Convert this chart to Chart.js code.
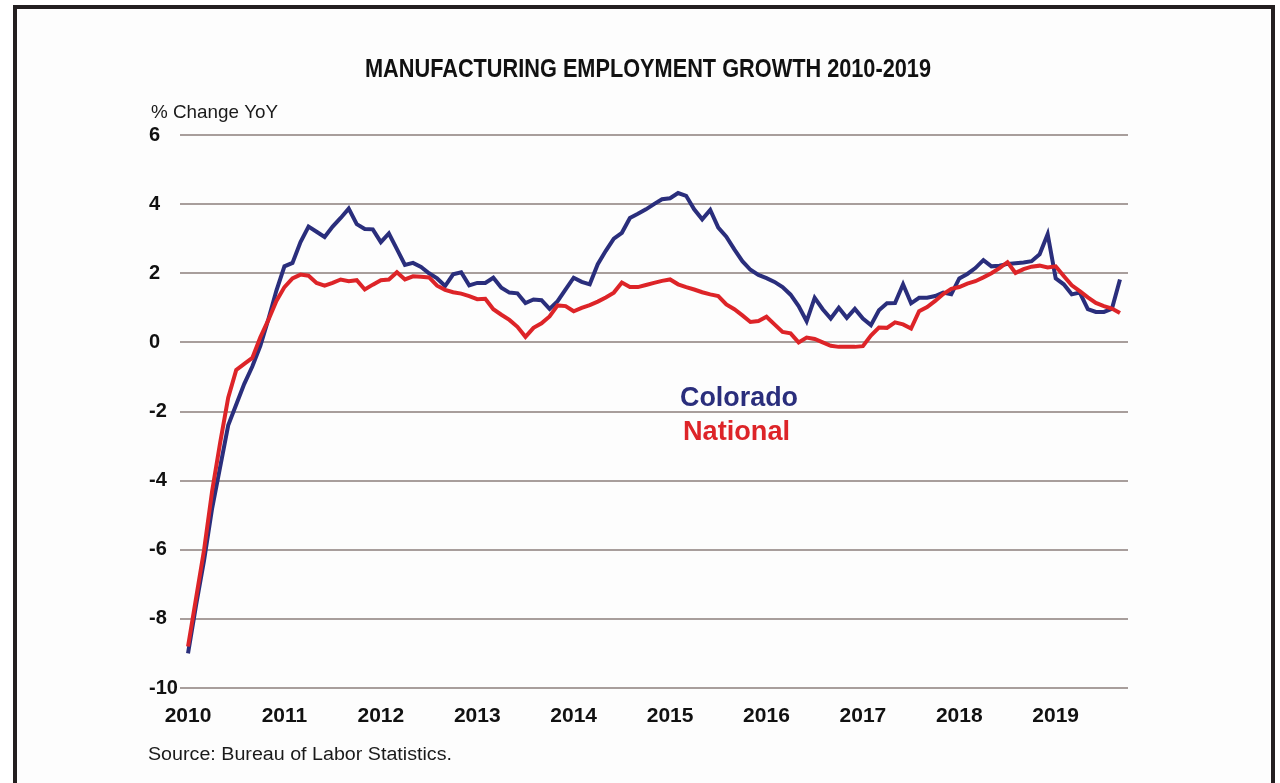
<!DOCTYPE html>
<html>
<head>
<meta charset="utf-8">
<title>Manufacturing Employment Growth 2010-2019</title>
<script src="https://cdn.jsdelivr.net/npm/chart.js@4.4.1/dist/chart.umd.min.js"></script>
<style>
  html, body { margin: 0; padding: 0; background: #ffffff; }
  body { width: 1280px; height: 783px; overflow: hidden; position: relative; }
  .frame {
    position: absolute; left: 13px; top: 5px; width: 1262px; height: 820px;
    border: 4px solid #231f20; box-sizing: border-box; background: #fdfdfd;
  }
  #chart { position: absolute; left: 0; top: 0; }
</style>
</head>
<body>
<div class="frame"></div>
<canvas id="chart" width="1280" height="783"></canvas>
<script>
// monthly year-over-year change, Jan 2010 .. Sep 2019
const years = ['2010', '2011', '2012', '2013', '2014', '2015', '2016', '2017', '2018', '2019'];
const yTicks = [6, 4, 2, 0, -2, -4, -6, -8, -10];

const colorado = [
  -9.0, -7.6, -6.3, -4.8, -3.6, -2.4, -1.8, -1.2, -0.7, -0.1, 0.67, 1.5,
  2.2, 2.3, 2.9, 3.35, 3.2, 3.05, 3.35, 3.6, 3.87, 3.42, 3.28, 3.27,
  2.9, 3.15, 2.7, 2.24, 2.3, 2.18, 2.0, 1.85, 1.63, 1.97, 2.03, 1.65,
  1.72, 1.72, 1.87, 1.58, 1.44, 1.42, 1.14, 1.24, 1.22, 0.97, 1.19, 1.53,
  1.87, 1.75, 1.68, 2.26, 2.65, 3.0, 3.17, 3.6, 3.72, 3.85, 4.0, 4.14,
  4.17, 4.32, 4.24, 3.85, 3.56, 3.83, 3.32, 3.06, 2.69, 2.35, 2.1, 1.95,
  1.86, 1.75, 1.6, 1.38, 1.05, 0.61, 1.29, 0.96, 0.69, 1.0, 0.71, 0.97,
  0.69, 0.5, 0.93, 1.13, 1.14, 1.68, 1.13, 1.29, 1.29, 1.34, 1.44, 1.39,
  1.85, 1.98, 2.15, 2.38, 2.2, 2.22, 2.27, 2.29, 2.31, 2.35, 2.55, 3.13,
  1.85, 1.68, 1.39, 1.44, 0.96, 0.88, 0.88, 0.97, 1.82
];

const national = [
  -8.8, -7.4, -6.0, -4.3, -2.9, -1.6, -0.8, -0.62, -0.45, 0.15, 0.65, 1.2,
  1.6, 1.85, 1.96, 1.93, 1.72, 1.64, 1.72, 1.82, 1.77, 1.8, 1.53, 1.67,
  1.8, 1.82, 2.03, 1.82, 1.91, 1.9, 1.88, 1.64, 1.52, 1.45, 1.41, 1.34,
  1.25, 1.26, 0.96, 0.8, 0.65, 0.45, 0.16, 0.42, 0.55, 0.75, 1.07, 1.05,
  0.9, 1.0, 1.08, 1.18, 1.3, 1.44, 1.73, 1.6, 1.6, 1.66, 1.72, 1.78,
  1.82, 1.68, 1.6, 1.53, 1.45, 1.39, 1.34, 1.1, 0.96, 0.78, 0.59, 0.62,
  0.74, 0.52, 0.3, 0.26, 0.0, 0.14, 0.1, 0.0, -0.1, -0.13, -0.13, -0.13,
  -0.11, 0.2, 0.43, 0.42, 0.58, 0.52, 0.4, 0.9, 1.02, 1.2, 1.4, 1.55,
  1.6, 1.7, 1.77, 1.88, 2.0, 2.15, 2.32, 2.01, 2.12, 2.19, 2.22, 2.17,
  2.2, 1.92, 1.65, 1.48, 1.3, 1.14, 1.05, 0.98, 0.85
];

const BLUE = '#2a2e7c';
const RED = '#dd2428';

const toPoints = arr => arr.map((v, i) => ({ x: i, y: v }));

// text drawn straight onto the canvas, squeezed to a given width when asked
function drawText(ctx, text, x, y, font, color, width) {
  ctx.save();
  ctx.font = font;
  ctx.fillStyle = color;
  ctx.textBaseline = 'alphabetic';
  ctx.textAlign = 'left';
  const w = ctx.measureText(text).width;
  ctx.translate(x, y);
  if (width) ctx.scale(width / w, 1);
  ctx.fillText(text, 0, 0);
  ctx.restore();
}

const chartTexts = {
  id: 'chartTexts',
  afterDraw(chart) {
    const ctx = chart.ctx;
    drawText(ctx, 'MANUFACTURING EMPLOYMENT GROWTH 2010-2019', 365, 77,
      'bold 25px "Liberation Sans Narrow", "Liberation Sans", Arial, sans-serif', '#111111', 566);
    drawText(ctx, '% Change YoY', 151, 118,
      '19px "Liberation Sans", Arial, sans-serif', '#1a1a1a', 127);
    drawText(ctx, 'Colorado', 680, 406,
      'bold 27px "Liberation Sans", Arial, sans-serif', BLUE, 118);
    drawText(ctx, 'National', 683, 440,
      'bold 27px "Liberation Sans", Arial, sans-serif', RED, 107);
    drawText(ctx, 'Source: Bureau of Labor Statistics.', 148, 760,
      '18px "Liberation Sans", Arial, sans-serif', '#1a1a1a', 304);
  }
};

new Chart(document.getElementById('chart'), {
  type: 'line',
  data: {
    datasets: [
      {
        label: 'National',
        data: toPoints(national),
        borderColor: RED,
        borderWidth: 4,
        pointRadius: 0,
        tension: 0
      },
      {
        label: 'Colorado',
        data: toPoints(colorado),
        borderColor: BLUE,
        borderWidth: 4,
        pointRadius: 0,
        tension: 0
      }
    ]
  },
  options: {
    responsive: false,
    animation: false,
    events: [],
    layout: { padding: { left: 149, right: 152, top: 135, bottom: 55 } },
    plugins: {
      legend: { display: false },
      title: { display: false },
      tooltip: { enabled: false }
    },
    scales: {
      x: {
        type: 'linear',
        min: -1,
        max: 117,
        afterBuildTicks: scale => {
          scale.ticks = years.map((y, i) => ({ value: i * 12 }));
        },
        afterFit: scale => { scale.height = 40; },
        grid: { display: false, drawTicks: false },
        border: { display: false },
        ticks: {
          padding: 16,
          maxRotation: 0,
          autoSkip: false,
          color: '#111111',
          font: { family: '"Liberation Sans", Arial, sans-serif', size: 21, weight: 'bold' },
          callback: value => years[value / 12]
        }
      },
      y: {
        min: -10,
        max: 6,
        afterBuildTicks: scale => {
          scale.ticks = yTicks.map(v => ({ value: v }));
        },
        afterFit: scale => { scale.width = 31; },
        grid: { color: '#a89e9c', lineWidth: 2, drawTicks: false },
        border: { display: false },
        ticks: {
          crossAlign: 'far',
          padding: 0,
          color: '#111111',
          font: { family: '"Liberation Sans", Arial, sans-serif', size: 20, weight: 'bold' }
        }
      }
    }
  },
  plugins: [chartTexts]
});
</script>
</body>
</html>
